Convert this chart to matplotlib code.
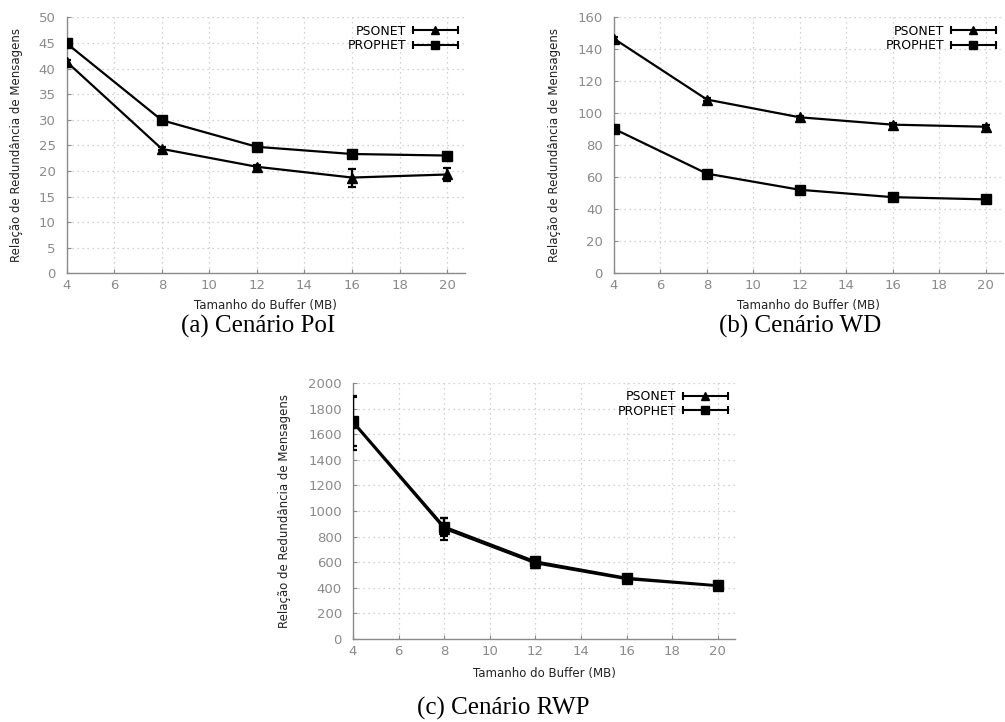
import matplotlib
matplotlib.use("Agg")
import matplotlib.pyplot as plt
from matplotlib.lines import Line2D
from matplotlib.legend_handler import HandlerBase

# ---------------- data ----------------
buffer_mb = [4, 8, 12, 16, 20]
x_ticks = [4, 6, 8, 10, 12, 14, 16, 18, 20]

poi_psonet = [41.3, 24.3, 20.8, 18.7, 19.3]
poi_psonet_err = [0.4, 0.3, 0.3, 1.75, 1.2]
poi_prophet = [44.9, 29.9, 24.7, 23.3, 23.0]
poi_prophet_err = [0.3, 0.3, 0.3, 0.3, 0.3]
poi_yticks = [0, 5, 10, 15, 20, 25, 30, 35, 40, 45, 50]

wd_psonet = [146.6, 108.6, 97.5, 92.9, 91.6]
wd_psonet_err = [0.8, 0.8, 0.8, 0.8, 0.8]
wd_prophet = [90.3, 62.3, 52.2, 47.6, 46.2]
wd_prophet_err = [0.8, 0.8, 0.8, 0.8, 0.8]
wd_yticks = [0, 20, 40, 60, 80, 100, 120, 140, 160]

rwp_psonet = [1690, 862, 592, 468, 414]
rwp_psonet_err = [210, 85, 40, 15, 10]
rwp_prophet = [1700, 878, 606, 478, 419]
rwp_prophet_err = [190, 70, 30, 12, 8]
rwp_yticks = [0, 200, 400, 600, 800, 1000, 1200, 1400, 1600, 1800, 2000]

series_names = ["PSONET", "PROPHET"]
captions = ["(a) Cenário PoI", "(b) Cenário WD", "(c) Cenário RWP"]
xlabel = "Tamanho do Buffer (MB)"
ylabel = "Relação de Redundância de Mensagens"

# ---------------- style ----------------
TICK_COLOR = "#8a8a8a"
GRID_COLOR = "#c4c4c4"
FS = 8.5


class HandlerGnu(HandlerBase):
    def create_artists(self, legend, orig_handle, xdescent, ydescent,
                       width, height, fontsize, trans):
        y = height / 2.0 - ydescent
        x0 = -xdescent
        x1 = width - xdescent
        line = Line2D([x0, x1], [y, y], color="black", lw=1.5,
                      transform=trans)
        caps = Line2D([x0, x1], [y, y], color="black", lw=0,
                      marker="|", markersize=5.5, markeredgewidth=1.5,
                      linestyle="none", transform=trans)
        mk = Line2D([(x0 + x1) / 2.0], [y], color="black",
                    marker=orig_handle.get_marker(),
                    markersize=6,
                    linestyle="none", transform=trans)
        return [line, caps, mk]


fig = plt.figure(figsize=(10.05, 7.22), dpi=100)

W, H = 1005.0, 722.0


def make_ax(left, right, top, bottom):
    return fig.add_axes([left / W, 1 - bottom / H, (right - left) / W,
                         (bottom - top) / H])


ax_a = make_ax(66.7, 465, 17.3, 273.3)
ax_b = make_ax(614, 1003, 17.3, 273.3)
ax_c = make_ax(353, 735, 383, 639)

panels = [
    (ax_a, poi_psonet, poi_psonet_err, poi_prophet, poi_prophet_err,
     poi_yticks, -0.11, -0.10),
    (ax_b, wd_psonet, wd_psonet_err, wd_prophet, wd_prophet_err,
     wd_yticks, -0.136, -0.10),
    (ax_c, rwp_psonet, rwp_psonet_err, rwp_prophet, rwp_prophet_err,
     rwp_yticks, -0.162, -0.11),
]

for ax, ps, pse, pr, pre, yt, ylab_x, xlab_y in panels:
    eb1 = ax.errorbar(buffer_mb, ps, yerr=pse, color="black", lw=1.6,
                      marker="^", markersize=7, capsize=3,
                      elinewidth=1.6, capthick=1.6, zorder=3)
    eb2 = ax.errorbar(buffer_mb, pr, yerr=pre, color="black", lw=1.6,
                      marker="s", markersize=7, capsize=3,
                      elinewidth=1.6, capthick=1.6, zorder=3)
    ax.set_xlim(4, 20.75)
    ax.set_ylim(yt[0], yt[-1])
    ax.set_xticks(x_ticks)
    ax.set_yticks(yt)
    ax.grid(True, color=GRID_COLOR, linestyle=(0, (1, 3)), linewidth=0.9)
    ax.set_axisbelow(True)
    for s in ["top", "right"]:
        ax.spines[s].set_visible(False)
    for s in ["left", "bottom"]:
        ax.spines[s].set_color(TICK_COLOR)
        ax.spines[s].set_linewidth(1.0)
    ax.tick_params(direction="in", length=3, color=TICK_COLOR,
                   labelcolor=TICK_COLOR, labelsize=FS + 1)
    ax.tick_params(axis="y", pad=8)
    ax.tick_params(axis="x", pad=4)
    ax.set_xlabel(xlabel, fontsize=FS, color="#222222")
    ax.set_ylabel(ylabel, fontsize=FS, color="#222222")
    ax.xaxis.set_label_coords(0.5, xlab_y)
    ax.yaxis.set_label_coords(ylab_x, 0.5)
    ax.legend([eb1[0], eb2[0]], series_names, loc="upper right",
              markerfirst=False, frameon=False, fontsize=FS + 0.5,
              handlelength=3.6, handletextpad=0.5, labelspacing=0.1,
              borderaxespad=0.4, borderpad=0.2,
              handler_map={Line2D: HandlerGnu()})

cap_font = dict(family="Liberation Serif", fontsize=18, color="black",
                ha="center", va="center")
fig.text(258 / W, 1 - 326 / H, captions[0], **cap_font)
fig.text(800 / W, 1 - 326 / H, captions[1], **cap_font)
fig.text(503 / W, 1 - 708 / H, captions[2], **cap_font)

fig.savefig("out.png", dpi=100)
